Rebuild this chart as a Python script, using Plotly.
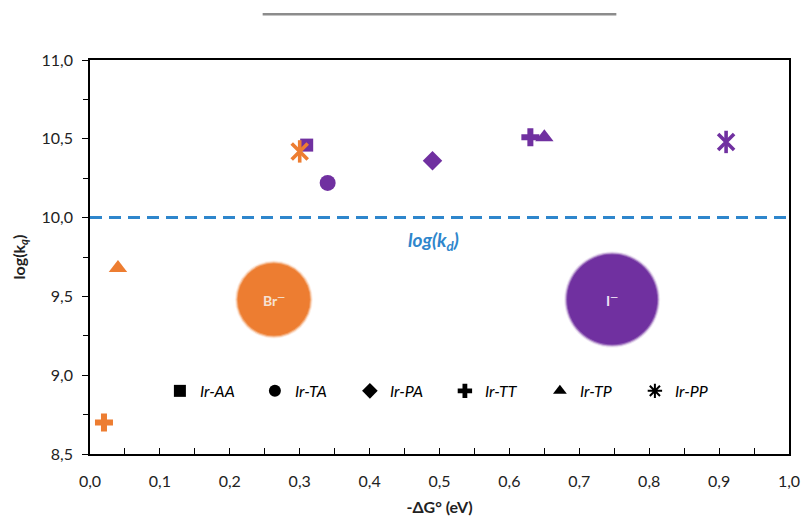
import plotly.graph_objects as go

# Quenching constants log(kq) vs driving force -dG° for the Ir complexes
complexes = ["Ir-AA", "Ir-TA", "Ir-PA", "Ir-TT", "Ir-TP", "Ir-PP"]

# iodide quencher
iodide_complex = ["Ir-AA", "Ir-TA", "Ir-PA", "Ir-TT", "Ir-TP", "Ir-PP"]
iodide_dG = [0.31, 0.34, 0.49, 0.63, 0.65, 0.91]
iodide_logkq = [10.46, 10.22, 10.36, 10.51, 10.51, 10.48]

# bromide quencher
bromide_complex = ["Ir-TT", "Ir-TP", "Ir-PP"]
bromide_dG = [0.02, 0.04, 0.30]
bromide_logkq = [8.70, 9.68, 10.42]

# diffusion limit
log_kd = 10.0

# ion badges
ion_labels = ["Br<sup>\u2014</sup>", "I<sup>\u2014</sup>"]

x_ticks = [0.0, 0.1, 0.2, 0.3, 0.4, 0.5, 0.6, 0.7, 0.8, 0.9, 1.0]
y_ticks = [8.5, 9.0, 9.5, 10.0, 10.5, 11.0]

ORANGE = "#ED7D31"
PURPLE = "#7030A0"
BLUE = "#2E86CC"
FONT = "Lato"

symbols = {
    "Ir-AA": ("square", 13),
    "Ir-TA": ("circle", 16),
    "Ir-PA": ("diamond", 15),
    "Ir-TT": ("cross", 15),
    "Ir-TP": ("triangle-up", 16),
    "Ir-PP": ("star6", 16),
}

fig = go.Figure()


def add_point(x, y, name, color):
    sym, size = symbols[name]
    if sym == "star6":
        # six-armed asterisk: an X with a vertical bar through it
        for s in ("x-thin-open", "line-ns-open"):
            fig.add_trace(go.Scatter(
                x=[x], y=[y], mode="markers", showlegend=False, hoverinfo="skip",
                marker=dict(symbol=s, size=size, color=color,
                            line=dict(color=color, width=3.6))))
    else:
        fig.add_trace(go.Scatter(
            x=[x], y=[y], mode="markers", showlegend=False, name=name,
            marker=dict(symbol=sym, size=size, color=color, line=dict(width=0))))


# soft-edged ion discs
ion_x = [0.263, 0.747]
ion_y = [9.48, 9.48]
ion_size = [74, 92]
ion_color = [ORANGE, PURPLE]
ion_text_color = ["#F6E2D3", "#EEE2F6"]
for k in range(2):
    for grow, op in ((4, 0.12), (2, 0.3), (0, 0.6), (-2, 1.0)):
        fig.add_trace(go.Scatter(
            x=[ion_x[k]], y=[ion_y[k]], mode="markers", showlegend=False,
            hoverinfo="skip",
            marker=dict(symbol="circle", size=ion_size[k] + grow,
                        color=ion_color[k], opacity=op, line=dict(width=0))))
    fig.add_annotation(x=ion_x[k], y=ion_y[k], text="<b>" + ion_labels[k] + "</b>",
                       showarrow=False, font=dict(family=FONT, size=14,
                                                  color=ion_text_color[k]))

for x, y, n in zip(iodide_dG, iodide_logkq, iodide_complex):
    add_point(x, y, n, PURPLE)
for x, y, n in zip(bromide_dG, bromide_logkq, bromide_complex):
    add_point(x, y, n, ORANGE)

# diffusion-limit line
fig.add_trace(go.Scatter(
    x=[0.0, 1.0], y=[log_kd, log_kd], mode="lines", showlegend=False,
    hoverinfo="skip", line=dict(color=BLUE, width=3, dash="12px,7px")))
fig.add_annotation(x=0.491, y=log_kd - 0.15, text="<b><i>log(k<sub>d</sub>)</i></b>",
                   showarrow=False, font=dict(family=FONT, size=19, color=BLUE))

# black legend keys
for n in complexes:
    sym, size = symbols[n]
    if sym == "star6":
        sym = "asterisk-open"
    fig.add_trace(go.Scatter(
        x=[None], y=[None], mode="markers", name=n,
        marker=dict(symbol=sym, size=8, color="black",
                    line=dict(color="black", width=2 if sym == "asterisk-open" else 0))))

fig.update_layout(
    width=805, height=519,
    margin=dict(l=90, r=16, t=60, b=65),
    paper_bgcolor="white", plot_bgcolor="white",
    separators=", ",
    font=dict(family=FONT, size=15, color="#222222"),
    legend=dict(orientation="h", x=0.1, y=0.16, xanchor="left", yanchor="middle",
                entrywidth=50, font=dict(family=FONT, size=16, color="black", style="italic"),
                bgcolor="rgba(0,0,0,0)", itemsizing="constant"),
    xaxis=dict(range=[0, 1.0], tickvals=x_ticks, tickformat=".1f", automargin=False,
               showgrid=False, zeroline=False, showline=True, linecolor="black",
               linewidth=1.5, mirror=True, ticks="inside", ticklen=6, tickwidth=1.3,
               tickcolor="black", ticklabelstandoff=12,
               minor=dict(dtick=0.05, ticks="inside", ticklen=6, tickwidth=1.3,
                          tickcolor="black", showgrid=False),
               tickfont=dict(family=FONT, size=16, color="#222222"),
               title=dict(text="<b>-\u0394G\u00b0 (eV)</b>", standoff=13,
                          font=dict(family=FONT, size=16, color="#222222"))),
    yaxis=dict(range=[8.5, 11.0], tickvals=y_ticks, tickformat=".1f", automargin=False,
               showgrid=False, zeroline=False, showline=True, linecolor="black",
               linewidth=1.5, mirror=True, ticks="outside", ticklen=6, tickwidth=1.3,
               tickcolor="black", ticklabelstandoff=6,
               minor=dict(dtick=0.25, ticks="outside", ticklen=5, tickwidth=1.3,
                          tickcolor="black", showgrid=False),
               tickfont=dict(family=FONT, size=16, color="#222222"),
               title=dict(text="<b>log(k<sub><i>q</i></sub>)</b>", standoff=12,
                          font=dict(family=FONT, size=16, color="#222222"))),
)

# grey rule above the plot
fig.add_shape(type="line", xref="paper", yref="paper", x0=0.247, x1=0.753,
              y0=1.116, y1=1.116, line=dict(color="#8C8C8C", width=2.5))

fig.write_html("out.html")
